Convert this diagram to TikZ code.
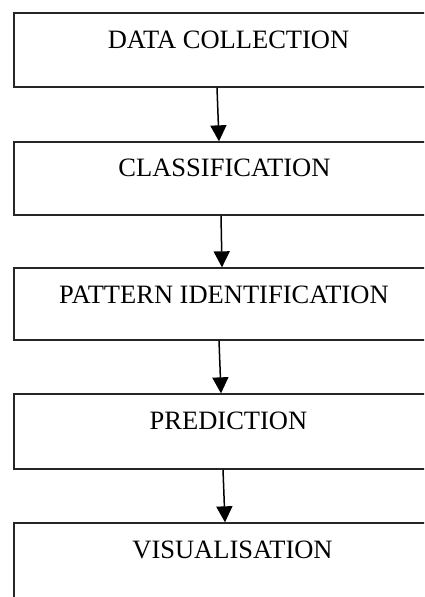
\documentclass[tikz,border=0pt]{standalone}
\usepackage{fontspec}
\setmainfont{Liberation Serif}
\usetikzlibrary{arrows.meta}
\begin{document}
\begin{tikzpicture}[x=1pt,y=-1pt,
  stagebox/.style={draw=black!85,line width=1.3pt,rectangle,minimum width=420pt,inner sep=0pt},
  lbl/.style={anchor=base,inner sep=0pt,font=\fontsize{26.5}{31}\selectfont},
  flow/.style={draw=black,line width=1.5pt,-{Triangle[width=16pt,length=16pt]}}]
\useasboundingbox (0,0) rectangle (424,597);
\clip (0,0) rectangle (424,597);
\fill[white] (0,0) rectangle (424,597);
\node[stagebox,minimum height=74pt] (b1) at (224,50) {};
\node[stagebox,minimum height=73pt] (b2) at (224,178.5) {};
\node[stagebox,minimum height=72pt] (b3) at (224,304) {};
\node[stagebox,minimum height=75pt] (b4) at (224,431.5) {};
\node[stagebox,minimum height=97pt] (b5) at (224,571.5) {};
\node[lbl] (t1) at (228.5,48) {DATA COLLECTION};
\node[lbl] (t2) at (224.5,176) {CLASSIFICATION};
\node[lbl] (t3) at (224,303) {PATTERN IDENTIFICATION};
\node[lbl] (t4) at (228.5,429) {PREDICTION};
\node[lbl] (t5) at (232.5,558) {VISUALISATION};
\draw[flow] ([xshift=-7pt]b1.south) -- ([xshift=-5pt]b2.north);
\draw[flow] ([xshift=-3pt]b2.south) -- ([xshift=-2pt]b3.north);
\draw[flow] ([xshift=-5pt]b3.south) -- ([xshift=-3pt]b4.north);
\draw[flow] ([xshift=-1pt]b4.south) -- ([xshift=1pt]b5.north);
\end{tikzpicture}
\end{document}
